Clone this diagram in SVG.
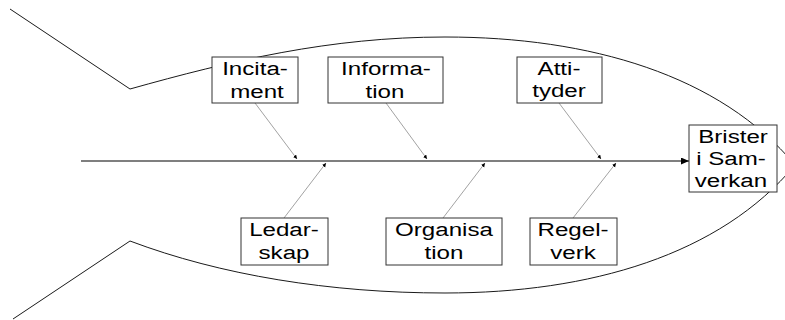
<svg xmlns="http://www.w3.org/2000/svg" width="785" height="320" viewBox="0 0 785 320">
<style>
.body{fill:none;stroke:#1a1a1a;stroke-width:1}
.box{fill:#fff;stroke:#333;stroke-width:1}
.t{font-family:"Liberation Sans",Arial,sans-serif;font-size:19px;fill:#000;text-anchor:middle}
.bone{stroke:#8a8a8a;stroke-width:0.8;fill:none;marker-end:url(#dot)}
.spine{stroke:#555;stroke-width:1.6;fill:none;marker-end:url(#head)}
</style>
<defs>
<marker id="dot" markerUnits="userSpaceOnUse" markerWidth="5" markerHeight="5" refX="4" refY="2" orient="auto">
<path d="M0,0 L4,2 L0,4 z" fill="#000"/>
</marker>
<marker id="head" markerUnits="userSpaceOnUse" markerWidth="9" markerHeight="8" refX="8" refY="3.5" orient="auto">
<path d="M0,0 L8,3.5 L0,7 z" fill="#000"/>
</marker>
</defs>
<rect width="785" height="320" fill="#fff"/>
<g id="fish">
<path class="body" d="M10,9 L130,89 C230,61 330,37 445,37 C590,37 720,75 795,165"/>
<path class="body" d="M13,319 L130,241 C220,275 330,293 445,293 C590,293 720,255 795,165"/>
</g>
<g id="connectors">
<line class="spine" x1="81" y1="161" x2="689" y2="161"/>
<line class="bone" x1="255" y1="103" x2="297" y2="159"/>
<line class="bone" x1="284" y1="218" x2="326" y2="163"/>
<line class="bone" x1="386" y1="103" x2="427" y2="159"/>
<line class="bone" x1="443" y1="218" x2="485" y2="163"/>
<line class="bone" x1="559" y1="103" x2="601" y2="159"/>
<line class="bone" x1="573" y1="218" x2="616" y2="163"/>
</g>
<g id="incitament">
<rect class="box" x="212" y="57" width="86" height="46"/>
<text class="t" transform="translate(255,75) scale(1.27,1)">Incita-</text>
<text class="t" transform="translate(257,98) scale(1.27,1)">ment</text>
</g>
<g id="information">
<rect class="box" x="328" y="57" width="115" height="46"/>
<text class="t" transform="translate(386,75) scale(1.27,1)">Informa-</text>
<text class="t" transform="translate(385,98) scale(1.27,1)">tion</text>
</g>
<g id="attityder">
<rect class="box" x="517" y="57" width="85" height="46"/>
<text class="t" transform="translate(559,75) scale(1.27,1)">Atti-</text>
<text class="t" transform="translate(559,97) scale(1.27,1)">tyder</text>
</g>
<g id="ledarskap">
<rect class="box" x="241" y="218" width="87" height="47"/>
<text class="t" transform="translate(284,236) scale(1.27,1)">Ledar-</text>
<text class="t" transform="translate(284,259) scale(1.27,1)">skap</text>
</g>
<g id="organisation">
<rect class="box" x="386" y="218" width="116" height="47"/>
<text class="t" transform="translate(444,236) scale(1.27,1)">Organisa</text>
<text class="t" transform="translate(444,259) scale(1.27,1)">tion</text>
</g>
<g id="regelverk">
<rect class="box" x="530" y="218" width="87" height="47"/>
<text class="t" transform="translate(573,236) scale(1.27,1)">Regel-</text>
<text class="t" transform="translate(573,259) scale(1.27,1)">verk</text>
</g>
<g id="brister">
<rect class="box" x="689" y="125" width="88" height="67"/>
<text class="t" transform="translate(733,143) scale(1.27,1)">Brister</text>
<text class="t" transform="translate(731,165) scale(1.27,1)">i Sam-</text>
<text class="t" transform="translate(731,187) scale(1.27,1)">verkan</text>
</g>
</svg>
